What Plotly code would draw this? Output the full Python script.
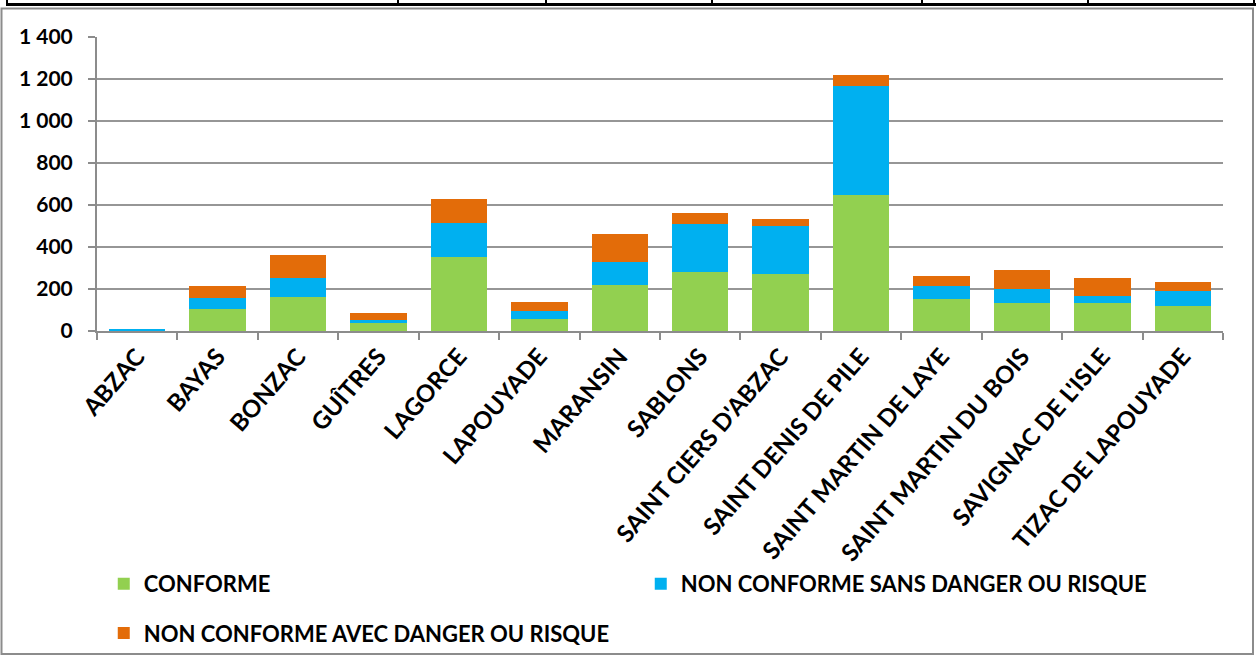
import plotly.graph_objects as go

communes = ["ABZAC", "BAYAS", "BONZAC", "GUÎTRES", "LAGORCE", "LAPOUYADE", "MARANSIN",
            "SABLONS", "SAINT CIERS D'ABZAC", "SAINT DENIS DE PILE", "SAINT MARTIN DE LAYE",
            "SAINT MARTIN DU BOIS", "SAVIGNAC DE L'ISLE", "TIZAC DE LAPOUYADE"]
conforme = [2, 104, 162, 37, 351, 56, 219, 283, 273, 648, 153, 133, 133, 119]
nc_sans = [3, 55, 89, 17, 164, 38, 109, 225, 225, 521, 62, 66, 36, 72]
nc_avec = [0, 56, 111, 32, 113, 45, 136, 54, 36, 51, 49, 90, 82, 44]

series = [
    ("CONFORME", conforme, "#92D050", "legend"),
    ("NON CONFORME SANS DANGER OU RISQUE", nc_sans, "#00B0F0", "legend"),
    ("NON CONFORME AVEC DANGER OU RISQUE", nc_avec, "#E36C09", "legend2"),
]

fig = go.Figure()
for name, vals, col, lg in series:
    fig.add_trace(go.Bar(x=communes, y=vals, name=name, legend=lg,
                         marker=dict(color=col, line=dict(width=0))))

FONT = "Lato"
L, R, T, B = 97, 37, 37, 330
W, H = 1260, 666
pw, ph = W - L - R, H - T - B

def px_x(p):
    return (p - L) / pw

def px_y(p):
    return (H - B - p) / ph

shapes = []
# outer chart border
shapes.append(dict(type="rect", xref="paper", yref="paper", x0=px_x(1.5), x1=px_x(1253), y0=px_y(664.5), y1=px_y(8),
                   line=dict(color="#8c8c8c", width=2), fillcolor="rgba(0,0,0,0)", layer="below"))
# top table strip
shapes.append(dict(type="line", xref="paper", yref="paper", x0=px_x(6), x1=px_x(1256), y0=px_y(4), y1=px_y(4),
                   line=dict(color="#000000", width=3)))
for xv in [7, 398, 546, 712, 922, 1088, 1254]:
    shapes.append(dict(type="line", xref="paper", yref="paper", x0=px_x(xv), x1=px_x(xv), y0=px_y(-2), y1=px_y(5),
                       line=dict(color="#000000", width=2)))

legfont = dict(family=FONT, size=22, color="#000000", weight="bold")

fig.update_layout(
    width=W, height=H,
    margin=dict(l=L, r=R, t=T, b=B),
    barmode="stack",
    bargap=0.3,
    paper_bgcolor="white",
    plot_bgcolor="white",
    separators=", ",
    font=dict(family=FONT, size=19, color="#000000"),
    shapes=shapes,
    showlegend=True,
    legend=dict(orientation="h", x=0.006, y=px_y(572), xanchor="left", yanchor="top",
                entrywidth=492, entrywidthmode="pixels", traceorder="normal",
                font=legfont, bgcolor="rgba(0,0,0,0)"),
    legend2=dict(orientation="h", x=0.006, y=px_y(622), xanchor="left", yanchor="top",
                 traceorder="normal", font=legfont, bgcolor="rgba(0,0,0,0)"),
    xaxis=dict(
        type="category",
        tickangle=-49,
        tickfont=dict(family=FONT, size=24, color="#000000", weight="bold"),
        showline=True, linecolor="#8c8c8c", linewidth=2,
        ticks="outside", ticklen=7, tickcolor="#8c8c8c", tickwidth=2,
        tickson="boundaries",
        showgrid=False,
        range=[-0.5, 13.5],
    ),
    yaxis=dict(
        range=[0, 1400],
        dtick=200,
        tickformat=",d",
        tickfont=dict(family=FONT, size=21, color="#000000", weight="bold"),
        showline=True, linecolor="#8c8c8c", linewidth=2,
        ticks="outside", ticklen=7, tickcolor="#8c8c8c", tickwidth=2,
        ticklabelstandoff=11,
        showgrid=True, gridcolor="#969696", gridwidth=2,
        zeroline=False,
    ),
)

fig.write_html("out.html", config={"displayModeBar": False},
               post_script="document.body.style.margin='0';document.body.style.overflow='hidden';")
